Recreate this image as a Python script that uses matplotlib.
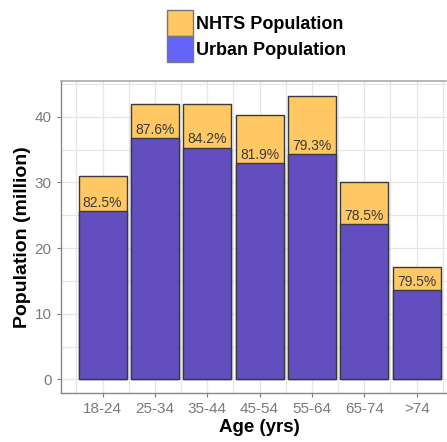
import matplotlib.pyplot as plt
from matplotlib.patches import Patch
from matplotlib.ticker import MultipleLocator
import numpy as np

plt.rcParams['font.family'] = ['Liberation Sans', 'DejaVu Sans']

ages = ['18-24', '25-34', '35-44', '45-54', '55-64', '65-74', '>74']
nhts_total = [31.0, 41.9, 41.9, 40.2, 43.2, 30.0, 17.1]
urban = [25.6, 36.7, 35.3, 32.9, 34.3, 23.6, 13.6]
pct = [82.5, 87.6, 84.2, 81.9, 79.3, 78.5, 79.5]

orange = '#FFC864'
purple = '#634EBF'
legend_blue = '#6464F8'
edge = '#3a3a3a'

fig = plt.figure(figsize=(4.47, 4.42), dpi=100)
ax = fig.add_axes([0.1358, 0.1115, 0.89, 0.706])

x = np.arange(len(ages))
ax.bar(x, nhts_total, width=0.92, color=orange, edgecolor=edge, linewidth=1, zorder=2)
ax.bar(x, urban, width=0.92, color=purple, edgecolor=edge, linewidth=1, zorder=3)
for xi, u, p in zip(x, urban, pct):
    ax.text(xi, u + 0.2, f'{p:.1f}%', ha='center', va='bottom', fontsize=10,
            color='#3a3a3a', zorder=4)

ax.set_xlim(-0.8, 6.8)
ax.set_ylim(-2.04, 45.5)
ax.set_xticks(x)
ax.set_xticklabels(ages)
ax.xaxis.set_minor_locator(MultipleLocator(0.5))
ax.yaxis.set_major_locator(MultipleLocator(10))
ax.yaxis.set_minor_locator(MultipleLocator(5))
ax.grid(which='both', color='#E6E6E6', linewidth=0.9, zorder=0)
ax.set_axisbelow(True)
ax.tick_params(which='major', labelsize=11, colors='#7a7a7a', length=3, width=0.8)
ax.tick_params(which='minor', length=0)
ax.tick_params(axis='x', pad=4)

for s in ['left', 'bottom']:
    ax.spines[s].set_color('#888888')
    ax.spines[s].set_linewidth(1)
ax.spines['top'].set_color('#AAAAAA')
ax.spines['top'].set_linewidth(1.2)
ax.spines['right'].set_visible(False)

ax.set_xlabel('Age (yrs)', fontsize=13.5, fontweight='bold', labelpad=2)
ax.set_ylabel('Population (million)', fontsize=14, fontweight='bold', labelpad=3)

handles = [Patch(facecolor=orange, edgecolor='#777777'),
           Patch(facecolor=legend_blue, edgecolor='#777777')]
fig.legend(handles, ['NHTS Population', 'Urban Population'], loc='upper left',
           bbox_to_anchor=(167 / 447, 1 - 10 / 442), frameon=False,
           prop={'weight': 'bold', 'size': 13}, handlelength=1.45, handleheight=1.84,
           labelspacing=0, handletextpad=0.15, borderpad=0, borderaxespad=0)

fig.savefig('out.png', dpi=100)
